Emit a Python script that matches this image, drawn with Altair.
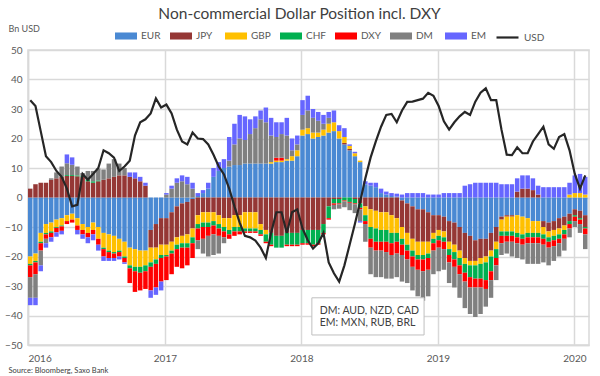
import altair as alt
import pandas as pd

SERIES = ["EUR", "JPY", "GBP", "CHF", "DXY", "DM", "EM"]
COLORS = ["#4a89d3", "#953735", "#ffc000", "#00b050", "#ff0000", "#808080", "#6666ff"]

# biweekly readings, Jan 2016 .. Jan 2020 (bn USD)
eur = [-20, -19, -12, -9, -8.5, -7.5, -7, -6, -5.5, -7, -9, -10, -8.5, -10, -12, -12.5, -13, -14, -15, -17, -17.5, -18, -18, -11, -9, -7,
       -7, -5, -3, -2, -1.5, -0.5, 0.5, 1.5, 3, 7, 9, 10, 10.5, 11, 11, 11.5, 11.5, 11.5, 11.5, 11.5, 11.5, 12, 12, 12.5, 12.5, 14,
       21, 21.5, 20, 20.5, 21, 22, 22.5, 20, 18, 16, 14, 12, 4.5, 4, 3.5, 1.5, 1, 0.5, 0.3, -1, -2, -3, -4, -4, -5, -6,
       -6, -6.5, -8, -8.5, -10, -12, -13, -14.5, -14, -14, -12, -10, -6.5, -6, -6, -6, -6.5, -7, -8, -8, -8, -8.5, -8, -7, -6.5, -5.5, -4, -4.5, -6]
jpy = [3, 4.5, 5, 5, 6, 6.5, 7, 7.3, 7.3, 7.2, 7, 5.5, 5, 5.5, 6, 6.5, 7, 7.5, 7.5, 7, 6.5, 5.5, 4, -6, -8, -9,
       -9, -10, -10.5, -11, -11, -10, -6, -5, -5, -5, -6, -7, -7, -6, -6, -5, -5, -5, -9, -11, -12, -13, -13, -12, -12, -12,
       -11, -11, -11, -11, -9, -3, -0.5, -0.5, 0.5, 0.5, -0.5, -2, -3, -4, -4.5, -5, -5, -6, -7, -9, -10, -11, -11, -11, -10, -6,
       -5, -5, -7, -7.5, -8, -8.5, -8.5, -7, -6.5, -6, -6, -5, -1, -0.5, -0.5, 2, 3, 3, 2.5, 1, -2, -3, -3, -3.5, -3, -2.5, -2, -2.5, -4]
gbp = [-2.5, -2.5, -3, -3, -3, -2.5, -2.5, -2, -2, -2.5, -2, -2, -2.5, -4, -5, -5.5, -5.5, -4, -5, -6, -6, -5.5, -5, -5, -4, -3.5,
       -3.5, -3, -2.5, -2.5, -3, -3, -3, -3.5, -3.5, -3, -3, -3, -4, -4, -4, -5.5, -5.5, -5.5, -2, -1.5, 0.5, 0.5, 0.5, 0.5, 1.5, 2,
       2, 2, 2, 1.5, 2, 3, 3, 2.5, 2, 1, 1, 0.5, -3, -6, -6, -6, -6, -6, -5, -4, -4, -4, -4.5, -4.5, -4, -2,
       -2, -2, -2.5, -2.5, -2.5, -2, -1.5, -1.5, -2, -2, -2, -2.5, -4, -5, -5, -6, -6, -5, -4, -4, -2.5, -2, -2, -2, -1.5, 1, 1.5, 1.5, 1]
chf = [-0.5, -0.5, -0.5, -0.5, -0.5, -0.3, -0.3, 0.3, 0.3, 0.3, 0.3, 0.5, 0.5, 0.3, -0.5, -0.5, -0.5, -0.5, -0.5, -1, -1.5, -2, -2, -1.5, -1.5, -1,
       -0.5, -1, -1.5, -1.5, -1.5, -2, -1.5, -1.5, -1.5, -1.5, -1.5, -1.5, -1.5, -1.5, -1.5, -1, -1, -1, -1.5, -2.5, -4, -4, -4, -4, -4, -4,
       -4.5, -4.5, -5, -4.5, -3, -4, -1.5, -1.5, -1, -1.5, -1.5, -1.5, -2, -4, -4.5, -4, -4, -3.5, -3, -2, -2, -2, -1.5, -1.5, -1.5, -1.5,
       -1.5, -1.5, -2, -2.5, -2.5, -3, -4, -4.5, -5, -6, -5, -3, -1.5, -1.5, -1.5, -1.5, -1.5, -1.5, -1.5, -1.5, -1.5, -1.5, -1.5, -1.5, -1.5, -1, -0.5, -0.5, -0.5]
dxy = [-4, -4, -2.5, -1.5, -1.5, -1.5, -1.5, -1, -1, -1.5, -1.5, -1.5, -1.5, -2, -2.5, -2, -1.5, -1.5, -1.5, -5, -7, -6, -6, -8, -8, -8,
       -8, -7, -6, -7, -6, -5, -4, -4, -3, -3, -2.5, -2, -1.5, -1.5, -1, -0.5, -0.5, -0.5, -0.5, -0.5, -0.5, 1, 1, -0.5, -0.5, -0.5,
       -0.5, -0.5, -0.5, -0.5, -0.5, -0.5, -0.5, -0.3, -0.3, -0.3, -0.3, -0.5, -1, -3, -3, -3, -3.5, -4, -4, -3.5, -3, -3.5, -3.5, -4, -4, -2.5,
       -2.5, -2.5, -2.5, -2.5, -3, -3, -3.5, -3, -3, -3, -3, -2.5, -2.5, -2, -2, -2, -2, -2, -2, -2, -2, -2, -2, -1.5, -1.5, -1.5, -1.5, -1.5, -2]
dm = [-7, -8, -5, -1.5, 0.5, 2, 3.5, 4, 3.5, 3, 1, 3, 3.5, 4, 3.5, 5, 6, 4, 2.5, 0, 0, 0, 0, 0, 0, 0,
      1, 3, 5, 5.5, 4.5, 3, -3, -5, -7, -7, -6, -2, 2, 7, 9, 8, 10, 12, 15, 14, 9, 7, 8, 8, 2, 2,
      5, 6, 5, 4, 2, 2, -1.5, -1.5, -2, -2.5, -3, -4, -6, -9, -9, -9, -9, -8, -8, -9, -8, -8, -9, -10, -9, -8,
      -8, -7, -7, -7, -8, -9, -9, -10, -9, -6, -6, -5, -4, -4, -5, -5, -5, -7, -7, -7, -6, -6, -5, -4.5, -4, -3, -2, -3, -5]
em = [-2.5, -2.5, -2, -1.5, -1.5, -1.5, -1.2, 3, 2.5, -1.5, -1.5, -2, -2, -2, -1.5, -1, -1, -1, -0.5, 1.5, 2, 1.5, 1, -2.5, -2.5, -3,
      0.5, 1, 1.5, 2, 2.5, 2, 1, 1, 2, 3, 3, 3, 8, 7, 8, 8, 5, 4, 3, 5, 6, 5, 4, 6, 4, 3,
      5, 5, 3, 3, 3, 2, 4, 2, 3, 0.5, 0.5, -0.5, 1, 1, 1.5, 1.5, 1, 1, 1, 1, 1.5, 1.5, 1.5, 1.5, 1, 1,
      1, 1.5, 1.5, 1.5, 1.5, 4, 4.5, 5, 5, 5, 5, 5, 4.5, 4.5, 4.5, 4.5, 4.5, 4.5, 4, 3, 3.5, 3.5, 3.5, 3.5, 3.5, 4, 6, 6.5, 6]
usd = [33, 31, 22.5, 14, 12, 9, 7, 3, -3, -2.5, 8, 6, 8, 10, 16, 15, 13.5, 9, 10.5, 12.5, 21, 25.5, 26.5, 28.5, 33.6, 30.5,
       31.5, 28.5, 23, 19, 18, 22, 20, 19.8, 18, 14.5, 10.5, 7.8, 3, -3, -8.5, -13, -13.5, -14.6, -17, -20.5, -12, -5, -5, -12, -5, -4,
       -10.5, -14.5, -17.3, -15.5, -12, -22, -25.7, -28.5, -23, -16, -9, -1.5, 6.5, 13.5, 19, 24, 28, 28.3, 25.5, 29.5, 32.4, 32.5, 33, 33.5, 35.5, 34.5,
       31, 25.8, 23, 25.5, 27.5, 29, 28, 32.5, 35.5, 37, 33, 33, 23, 14.5, 14.4, 17, 15, 15, 19, 21.5, 24, 18, 16.5, 20.5, 21.5, 16, 8, 3, 7.5]
y_ticks = [-50, -40, -30, -20, -10, 0, 10, 20, 30, 40, 50]
years = [2016, 2017, 2018, 2019, 2020]

values = dict(zip(SERIES, [eur, jpy, gbp, chf, dxy, dm, em]))
n = len(usd)
for s in SERIES:
    assert len(values[s]) == n, s

start = pd.Timestamp("2016-01-01")
rows = []
for i in range(n):
    d0 = start + pd.Timedelta(days=14 * i)
    d1 = d0 + pd.Timedelta(days=12)
    pos, neg = 0.0, 0.0
    for k, s in enumerate(SERIES):
        v = values[s][i]
        if v >= 0:
            lo, hi = pos, pos + v
            pos = hi
        else:
            lo, hi = neg + v, neg
            neg = lo
        rows.append({"start": d0, "end": d1, "series": s, "lo": lo, "hi": hi, "k": k})
bars = pd.DataFrame(rows)
line = pd.DataFrame({
    "start": [start + pd.Timedelta(days=14 * i + 6) for i in range(n)],
    "lo": usd,
    "name": ["USD"] * n,
})

note = pd.DataFrame({"start": [pd.Timestamp("2018-01-29")], "end": [pd.Timestamp("2018-11-25")],
                     "lo": [-34.0], "hi": [-46.6]})
note_text = pd.DataFrame({"start": [pd.Timestamp("2018-02-19")] * 2, "lo": [-38.4, -42.7],
                          "t": ["DM: AUD, NZD, CAD", "EM: MXN, RUB, BRL"]})

GRID = "#d9d9d9"
xscale = alt.Scale(domain=[alt.DateTime(year=2016, month=1, date=1),
                           alt.DateTime(year=2020, month=2, date=9)])
yscale = alt.Scale(domain=[-50, 50], nice=False)

xaxis = alt.Axis(values=[alt.DateTime(year=y, month=1, date=1) for y in years],
                 format="%Y", grid=True, gridColor=GRID, gridWidth=1.5,
                 domainColor=GRID, domainWidth=1.5, ticks=False, labelPadding=8,
                 labelFontSize=10, labelColor="#595959", labelOverlap=False,
                 title="Source: Bloomberg, Saxo Bank", titleX=-20, titleY=25,
                 titleAlign="left", titleBaseline="middle", titleFontSize=7.5,
                 titleFontWeight="normal", titleColor="#404040")
yaxis = alt.Axis(values=y_ticks, grid=True, gridColor=GRID, gridWidth=1.5,
                 domainColor=GRID, domainWidth=1.5, ticks=False, labelPadding=6,
                 labelFontSize=10, labelColor="#595959", labelOverlap=False,
                 labelSeparation=0, labelBound=False,
                 title="Bn USD", titleAngle=0, titleX=-20, titleY=-22, titleAlign="left",
                 titleBaseline="middle", titleFontSize=9, titleFontWeight="normal",
                 titleColor="#595959")

X = alt.X("start:T", scale=xscale, axis=xaxis)
Y = alt.Y("lo:Q", scale=yscale, axis=yaxis)

bar_layer = alt.Chart(bars).mark_rect().encode(
    x=X,
    x2="end:T",
    y=Y,
    y2="hi:Q",
    fill=alt.Fill("series:N", scale=alt.Scale(domain=SERIES, range=COLORS),
                  legend=alt.Legend(orient="none", legendX=87, legendY=-25, direction="horizontal",
                                    columns=7, title=None, symbolType="M-1,-0.32H1V0.32H-1Z",
                                    symbolSize=484, symbolStrokeWidth=0, labelFontSize=10,
                                    labelColor="#595959", labelOffset=4, columnPadding=8,
                                    gridAlign="all", padding=0, symbolOpacity=1)),
)

line_layer = alt.Chart(line).mark_line(strokeWidth=2.2).encode(
    x=X,
    y=Y,
    stroke=alt.Stroke("name:N", scale=alt.Scale(domain=["USD"], range=["#262626"]),
                      legend=alt.Legend(orient="none", legendX=467, legendY=-25, title=None,
                                        symbolType="stroke", symbolSize=484,
                                        symbolStrokeWidth=2.2, labelFontSize=10,
                                        labelColor="#595959", labelOffset=4, padding=0)),
)

box_layer = alt.Chart(note).mark_rect(fill="white", stroke="#bfbfbf", strokeWidth=1).encode(
    x=X, x2="end:T", y=Y, y2="hi:Q")
text_layer = alt.Chart(note_text).mark_text(align="left", baseline="middle", fontSize=10.5,
                                            color="#404040").encode(
    x=X, y=Y, text="t:N")

chart = alt.layer(bar_layer, line_layer, box_layer, text_layer).properties(
    width=561, height=295,
    padding={"left": 28, "top": 50, "right": 11, "bottom": 31},
    autosize=alt.AutoSizeParams(type="none"),
    title=alt.TitleParams(text="Non-commercial Dollar Position incl. DXY", fontSize=15.5,
                          fontWeight="normal", color="#404040", anchor="middle", dx=-9,
                          offset=2),
).configure(font="Lato", background="white").configure_view(
    stroke=GRID, strokeWidth=1.5
).configure_axis(labelOverlap=False)

chart.save("out.html", embed_options={"renderer": "svg", "actions": False})
